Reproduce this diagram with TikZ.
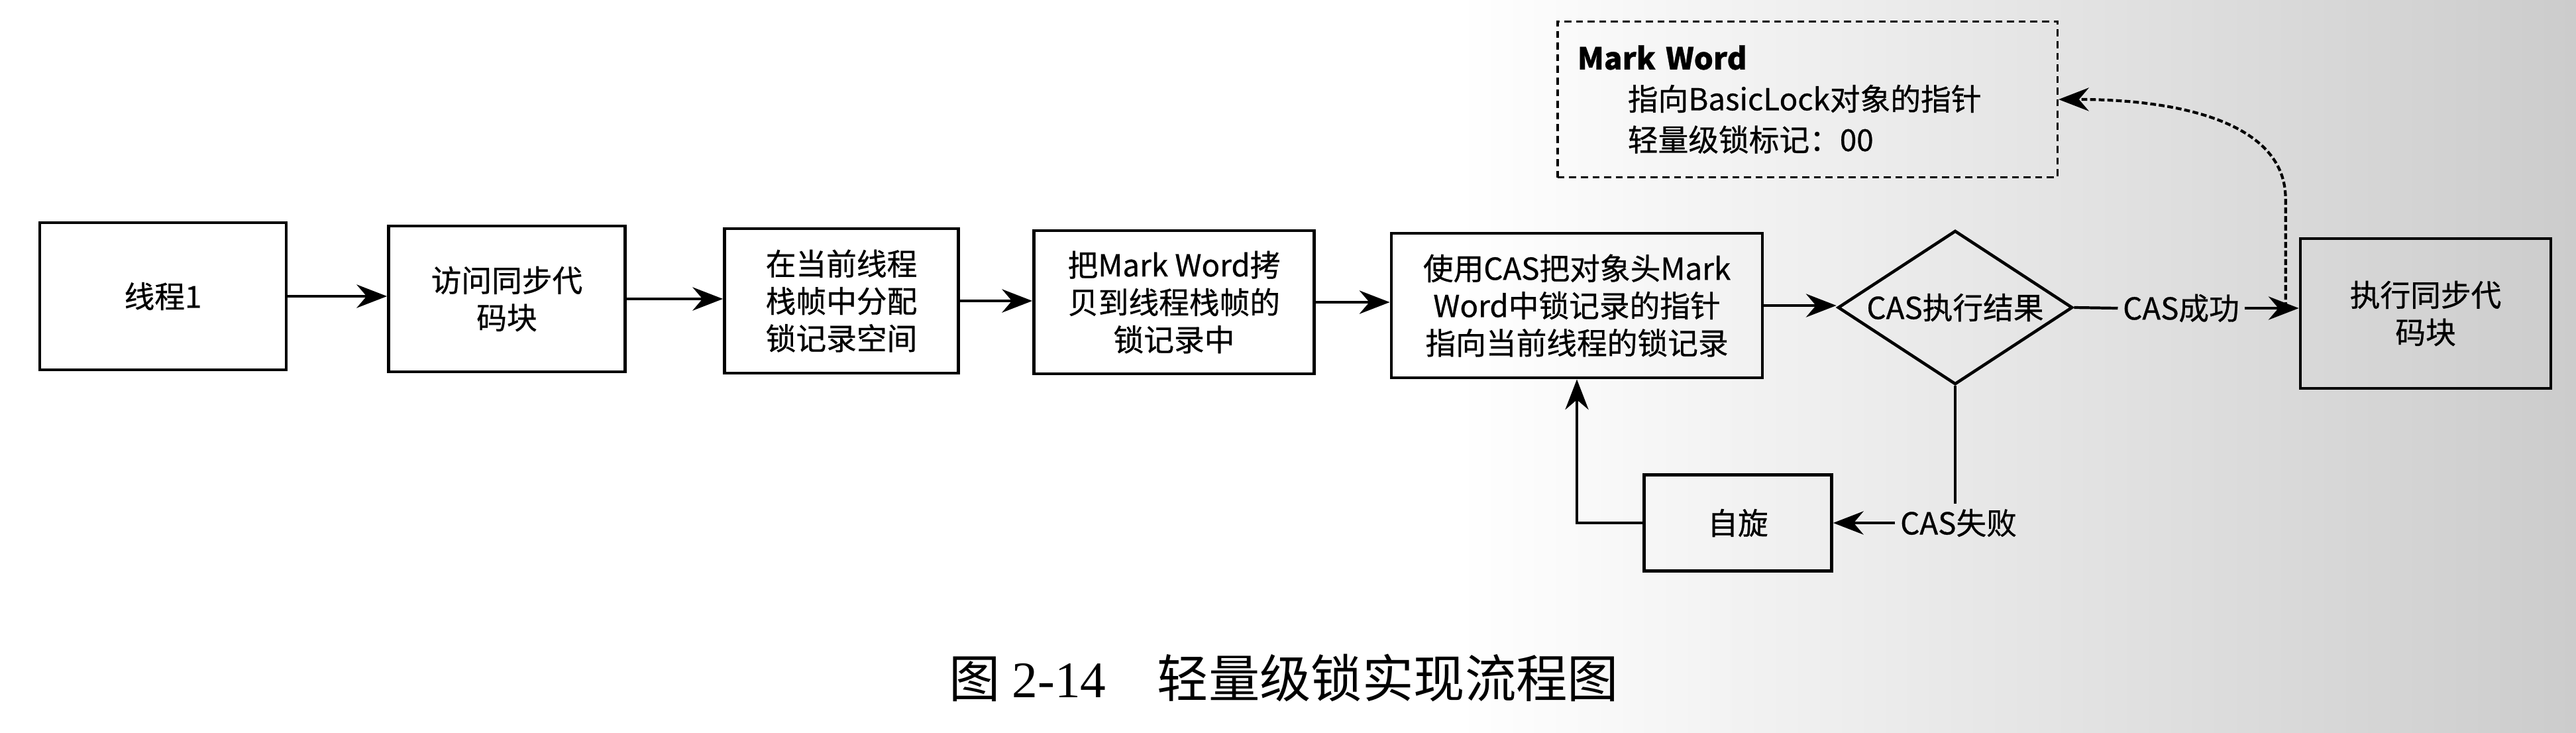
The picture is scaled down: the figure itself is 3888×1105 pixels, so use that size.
\documentclass[tikz,border=0pt]{standalone}
\usepackage{fontspec}
\setmainfont{Noto Sans CJK SC}
\newfontfamily\medfont[FakeBold=0.6]{Noto Sans CJK SC}
\newfontfamily\numfont{Liberation Serif}
\usetikzlibrary{arrows.meta,shapes.geometric,calc}
\newcommand\txtsz{\medfont\fontsize{13pt}{16pt}\selectfont}
\newcommand\capsz{\fontsize{22pt}{26pt}\selectfont}
\tikzset{
  box/.style={draw, line width=1.3pt, inner sep=0pt, align=center, font=\txtsz},
  flow/.style={line width=1.3pt, -{Stealth[length=13pt,width=10pt]}},
  thinflow/.style={line width=1.0pt, -{Stealth[length=13pt,width=10pt]}},
  lbl/.style={inner sep=2pt, font=\txtsz},
  dotlink/.style={line width=1.2pt, dash pattern=on 2.5pt off 1.2pt, -{Stealth[length=13pt,width=10pt]}},
}
\begin{document}
\begin{tikzpicture}[x=0.01cm,y=-0.01cm]
\useasboundingbox (0,0) rectangle (3888,1105);
\fill[white] (0,0) rectangle (3888,1105);
\shade[left color=white, right color=black!20] (2200,0) rectangle (3888,1105);

\node[box, minimum width=3.72cm, minimum height=2.22cm] (t1) at (246,447) {线程1};
\node[box, minimum width=3.57cm, minimum height=2.20cm] (acc) at (765,451) {访问同步代\\码块};
\node[box, minimum width=3.53cm, minimum height=2.18cm] (alloc) at (1270,454) {在当前线程\\栈帧中分配\\锁记录空间};
\node[box, minimum width=4.23cm, minimum height=2.16cm] (copy) at (1772,456) {把Mark Word拷\\贝到线程栈帧的\\锁记录中};
\node[box, minimum width=5.60cm, minimum height=2.18cm] (cas) at (2380,461) {使用CAS把对象头Mark\\Word中锁记录的指针\\指向当前线程的锁记录};
\node[draw, diamond, line width=1.3pt, inner sep=0pt, minimum width=3.54cm, minimum height=2.32cm,
      label={[font=\txtsz]center:CAS执行结果}] (res) at (2951,464) {};
\node[box, minimum width=3.78cm, minimum height=2.26cm] (exec) at (3661,473) {执行同步代\\码块};
\node[box, minimum width=2.83cm, minimum height=1.45cm] (spin) at (2623,789) {自旋};
\node[draw, line width=1.0pt, densely dashed, inner xsep=0.3cm, inner ysep=0pt,
      text width=6.94cm, minimum height=2.35cm, align=left,
      font=\medfont\fontsize{13pt}{17.5pt}\selectfont] (mw) at (2728,150)
  {\textbf{Mark Word}\\\hspace*{0.76cm}指向BasicLock对象的指针\\\hspace*{0.76cm}轻量级锁标记：00};

\node[lbl] (ok) at (3292,465) {CAS成功};
\node[lbl] (fail) at (2956,789) {CAS失败};
\node[font=\capsz] (cap) at (1938,1023) {图 {\numfont 2-14}\quad 轻量级锁实现流程图};

\draw[flow] (t1.east) -- (t1.east -| acc.west);
\draw[flow] (acc.east) -- (acc.east -| alloc.west);
\draw[flow] (alloc.east) -- (alloc.east -| copy.west);
\draw[flow] (copy.east) -- (copy.east -| cas.west);
\draw[flow] (cas.east) -- (cas.east -| res.west);
\draw[line width=1.2pt] (res.east) -- (ok.west);
\draw[flow] (ok.east) -- (ok.east -| exec.west);
\coordinate (j) at ($(ok.east -| exec.west)+(-20,0)$);
\draw[dotlink] (j) -- ++(0,-165) .. controls +(0,-110) and +(195,0) .. (mw.east);
\draw[line width=1.1pt] (res.south) -- (res.south |- fail.north);
\draw[flow] (fail.west) -- (spin.east);
\draw[thinflow] (spin.west) -| (cas.south);
\end{tikzpicture}
\end{document}
